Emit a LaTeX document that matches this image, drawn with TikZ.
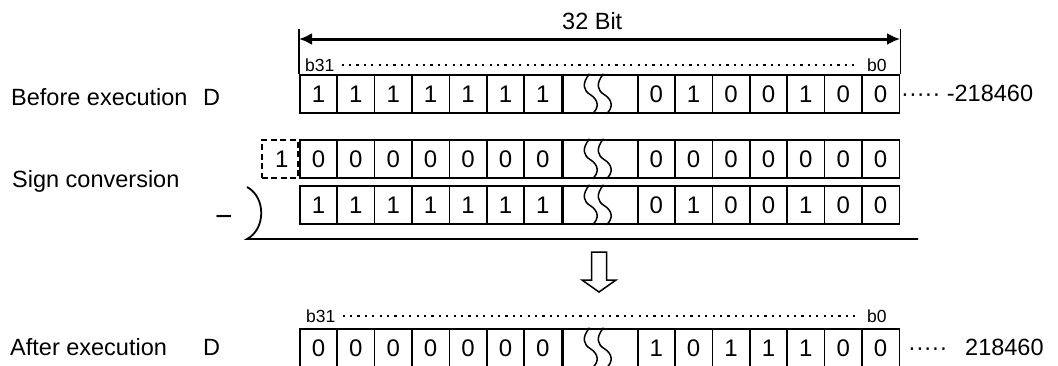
\documentclass[tikz,border=0pt]{standalone}
\usepackage{fontspec}
\setmainfont{Liberation Sans}
\usetikzlibrary{positioning,arrows.meta}

% one register row: name, top edge, upper bits, lower bits
\newcommand{\bitrow}[4]{%
  \foreach \b [count=\i] in {#3}
    \node[bit] (#1-l\i) at ({299+37.4*(\i-1)},#2) {\b};
  \node[gap] (#1-s) at (#1-l7.north east) {};
  \foreach \b [count=\i] in {#4}
    \node[bit] (#1-r\i) at ({636.8+37.4*(\i-1)},#2) {\b};
  \foreach \dx in {0,14}
    \draw[wave, shift={(#1-s.center)}, xshift=\dx]
      (-11,-20) .. controls (-19,-10) and (-17,-3) .. (-10,1)
      .. controls (-2,6) and (-1,14) .. (-8,20);
}

\begin{document}
\begin{tikzpicture}[
  x=1pt, y=-1pt,
  >=Latex,
  font=\fontsize{23.5}{28}\selectfont,
  bit/.style={
    draw,
    line width=1.5pt,
    minimum width=37.4pt,
    minimum height=38pt,
    inner sep=0pt,
    anchor=north west,
    font=\fontsize{24}{28}\selectfont
  },
  gap/.style={bit, minimum width=74.8pt},
  wave/.style={line width=1.5pt},
  lbl/.style={anchor=base west, inner sep=0pt},
  tiny/.style={lbl, font=\fontsize{17.5}{21}\selectfont},
  dots/.style={line width=2.2pt, dash pattern=on 2.2pt off 5.2pt}
  ]

  \useasboundingbox (0,0) rectangle (1058,365);

  %%%%%%%%%%%%%%%%%%%%%%%%%%%%%%%%%%%%%%%%%%%%%%%%%%%%%%
  % Registers
  %%%%%%%%%%%%%%%%%%%%%%%%%%%%%%%%%%%%%%%%%%%%%%%%%%%%%%

  \bitrow{bef}{74}{1,1,1,1,1,1,1}{0,1,0,0,1,0,0}
  \bitrow{one}{139}{0,0,0,0,0,0,0}{0,0,0,0,0,0,0}
  \bitrow{neg}{185}{1,1,1,1,1,1,1}{0,1,0,0,1,0,0}
  \bitrow{aft}{328}{0,0,0,0,0,0,0}{1,0,1,1,1,0,0}

  % carry bit
  \node[draw, dash pattern=on 6pt off 3.5pt, line width=2.2pt,
        minimum width=36pt, minimum height=38pt, inner sep=0pt,
        anchor=north east, font=\fontsize{24}{28}\selectfont]
        (carry) at (one-l1.north west) {\,1};

  %%%%%%%%%%%%%%%%%%%%%%%%%%%%%%%%%%%%%%%%%%%%%%%%%%%%%%
  % Labels
  %%%%%%%%%%%%%%%%%%%%%%%%%%%%%%%%%%%%%%%%%%%%%%%%%%%%%%

  \node[lbl] (before) at (11,105) {Before execution};
  \node[lbl] (bd) at (203,105) {D};
  \node[lbl] (sign) at (12,187) {Sign conversion};
  \node[lbl] (after) at (10,355) {After execution};
  \node[lbl] (ad) at (203,355) {D};

  \node[lbl] (bval) at (901,101) {····· -218460};
  \node[lbl] (adots) at (908,355) {·····};
  \node[lbl] (aval) at (965,355) {218460};

  \node[lbl] (width) at (562,29) {32 Bit};

  \node[tiny] (bmsb) at (305,71) {b31};
  \node[tiny] (blsb) at (867,71) {b0};
  \node[tiny] (amsb) at (306,322) {b31};
  \node[tiny] (alsb) at (867,322) {b0};

  \draw[dots] ([xshift=7pt,yshift=6pt]bmsb.base east) -- ([xshift=-8pt,yshift=6pt]blsb.base west);
  \draw[dots] ([xshift=7pt,yshift=6pt]amsb.base east) -- ([xshift=-8pt,yshift=6pt]alsb.base west);

  %%%%%%%%%%%%%%%%%%%%%%%%%%%%%%%%%%%%%%%%%%%%%%%%%%%%%%
  % Width arrow
  %%%%%%%%%%%%%%%%%%%%%%%%%%%%%%%%%%%%%%%%%%%%%%%%%%%%%%

  \coordinate (tl) at ([yshift=45pt]bef-l1.north west);
  \coordinate (tr) at ([yshift=45pt]bef-r7.north east);
  \draw[line width=1.2pt] (bef-l1.north west) -- (tl);
  \draw[line width=1.2pt] (bef-r7.north east) -- (tr);
  \draw[{Latex[length=13pt,width=12pt]}-{Latex[length=13pt,width=12pt]}, line width=3pt]
  ([yshift=-10pt]tl) -- ([yshift=-10pt]tr);

  %%%%%%%%%%%%%%%%%%%%%%%%%%%%%%%%%%%%%%%%%%%%%%%%%%%%%%
  % Subtraction
  %%%%%%%%%%%%%%%%%%%%%%%%%%%%%%%%%%%%%%%%%%%%%%%%%%%%%%

  \node[lbl, font=\fontsize{30}{34}\selectfont] (minus) at (215,226) {−};
  \coordinate (brk) at (247,187);
  \coordinate (rule) at (918,239);
  \draw[line width=1.8pt] (brk) .. controls (266,197) and (266,229) .. (247,239) -- (rule);

  %%%%%%%%%%%%%%%%%%%%%%%%%%%%%%%%%%%%%%%%%%%%%%%%%%%%%%
  % Result arrow
  %%%%%%%%%%%%%%%%%%%%%%%%%%%%%%%%%%%%%%%%%%%%%%%%%%%%%%

  \coordinate (dn) at (599,252);
  \draw[line width=1.5pt] (dn) ++(-7.5,0) -- ++(0,28) -- ++(-9.5,0)
  -- ++(17,12) -- ++(17,-12) -- ++(-9.5,0) -- ++(0,-28) -- cycle;

\end{tikzpicture}
\end{document}
